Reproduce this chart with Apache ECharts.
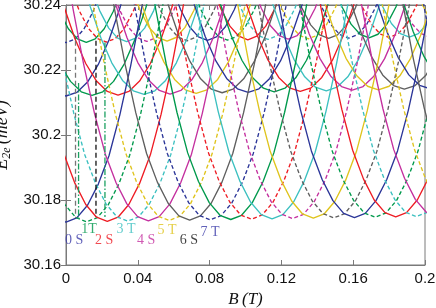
<!DOCTYPE html>
<html><head><meta charset="utf-8">
<script src="https://cdn.jsdelivr.net/npm/echarts@6/dist/echarts.min.js"></script>
<style>html,body{margin:0;padding:0;background:#fff}#c{width:436px;height:308px}</style>
</head><body><div id="c"></div>
<script>
// ---------- data ----------
// lowest band: B of each parabola minimum (T) and its minimum energy (meV), m = 0,1,2,...
const lowCenters = [0, 0.0115, 0.0230, 0.0344, 0.0459, 0.0574, 0.0689, 0.0804, 0.0918, 0.1033, 0.1148, 0.1263, 0.1378, 0.1492, 0.1607, 0.1722, 0.1837, 0.1952, 0.2066, 0.2181, 0.2296, 0.2411];
const lowFloors = [30.1732, 30.1733, 30.1734, 30.1735, 30.1736, 30.1737, 30.1738, 30.1739, 30.1740, 30.1741, 30.1742, 30.1743, 30.1744, 30.1745, 30.1746, 30.1747, 30.1748, 30.1749, 30.1750, 30.1751, 30.1752, 30.1753];
// shape of one lowest-band curve: distance from its minimum (T) and rise above it (meV)
const lowOffsets = [-0.048, -0.042, -0.036, -0.030, -0.024, -0.018, -0.012, -0.006, 0, 0.006, 0.012, 0.018, 0.024, 0.030, 0.036, 0.042, 0.048];
const lowRises = [0.0852, 0.0653, 0.0480, 0.0330, 0.0205, 0.0117, 0.0052, 0.0013, 0, 0.0013, 0.0052, 0.0117, 0.0205, 0.0330, 0.0480, 0.0653, 0.0852];

// middle band
const midCenters = [0, 0.0145, 0.0290, 0.0435, 0.0580, 0.0725, 0.0870, 0.1015, 0.1160, 0.1305, 0.1450, 0.1595, 0.1740, 0.1885, 0.2030, 0.2175, 0.2320];
const midFloors = [30.2120, 30.2122, 30.2123, 30.2125, 30.2126, 30.2128, 30.2130, 30.2131, 30.2133, 30.2134, 30.2136, 30.2138, 30.2139, 30.2141, 30.2142, 30.2144, 30.2146];
const midOffsets = [-0.036, -0.030, -0.024, -0.018, -0.012, -0.006, 0, 0.006, 0.012, 0.018, 0.024, 0.030, 0.036];
const midRises = [0.0389, 0.0270, 0.0173, 0.0097, 0.0043, 0.0011, 0, 0.0011, 0.0043, 0.0097, 0.0173, 0.0270, 0.0389];

// upper band
const topCenters = [0, 0.0113, 0.0225, 0.0338, 0.0450, 0.0563, 0.0675, 0.0788, 0.0900, 0.1013, 0.1125, 0.1238, 0.1350, 0.1463, 0.1575, 0.1688, 0.1800, 0.1913, 0.2025, 0.2138];
const topFloors = [30.2284, 30.2285, 30.2286, 30.2287, 30.2288, 30.2289, 30.2290, 30.2291, 30.2292, 30.2293, 30.2294, 30.2295, 30.2296, 30.2297, 30.2298, 30.2299, 30.2300, 30.2301, 30.2302, 30.2303];
const topOffsets = [-0.020, -0.015, -0.010, -0.005, 0, 0.005, 0.010, 0.015, 0.020];
const topRises = [0.0168, 0.0095, 0.0042, 0.0011, 0, 0.0011, 0.0042, 0.0095, 0.0168];

// vertical marker lines
const markB = [0.0053, 0.0070, 0.0167, 0.0217];
const markTop = [30.2290, 30.2160, 30.2290, 30.2285];
const markBottom = [30.1745, 30.1738, 30.1748, 30.1748];

// state labels
const stateLabels = ['0 S', '1T', '2 S', '3 T', '4 S', '5 T', '6 S', '7 T'];
const labelB = [0.0045, 0.0128, 0.0212, 0.0334, 0.0446, 0.0563, 0.0685, 0.0802];
const labelE = [30.1677, 30.1711, 30.1677, 30.1711, 30.1677, 30.1708, 30.1677, 30.1702];

// axis ticks
const xTicks = ['0', '0.04', '0.08', '0.12', '0.16', '0.2'];
const yTicks = ['30.16', '30.18', '30.2', '30.22', '30.24'];

// ---------- styles ----------
const palette = ['#2b3598', '#00994c', '#ee1c24', '#3cc0c0', '#c4309f', '#dfc41d', '#5f5f5f'];
const labelColors = ['#3a3aa8', '#00994c', '#ee1c24', '#3cc0c0', '#c4309f', '#dfc41d', '#111111', '#3a3aa8'];
const markColors = ['#777777', '#1aa060', '#111111', '#1aa060'];
const markDash = [[5, 3], [6, 2, 1.5, 2], [5, 3], [6, 2, 1.5, 2]];
const DASH = [4, 2.5];

const series = [];
function addCurve(center, floor, offs, rises, color, dashed) {
  series.push({
    type: 'line', symbol: 'none', silent: true, animation: false, clip: true,
    data: offs.map((o, j) => [center + o, floor + rises[j]]),
    lineStyle: { color: color, width: 1.35, type: dashed ? DASH : 'solid' }
  });
}
topCenters.forEach((c, m) => addCurve(c, topFloors[m], topOffsets, topRises, palette[m % 7], m % 2 === 0));
midCenters.forEach((c, m) => addCurve(c, midFloors[m], midOffsets, midRises, palette[m % 7], false));
lowCenters.forEach((c, m) => addCurve(c, lowFloors[m], lowOffsets, lowRises, palette[m % 7], m % 2 === 1));

markB.forEach((b, i) => series.push({
  type: 'line', symbol: 'none', silent: true, animation: false,
  data: [[b, markTop[i]], [b, markBottom[i]]],
  lineStyle: { color: markColors[i], width: 1.3, type: markDash[i] }
}));

series.push({
  type: 'scatter', symbolSize: 0, silent: true, animation: false,
  data: stateLabels.map((t, i) => ({ value: [labelB[i], labelE[i]], name: t, label: { color: labelColors[i] } })),
  label: {
    show: true, position: 'inside', formatter: p => p.name,
    fontFamily: 'Liberation Serif', fontSize: 14
  }
});

const axisGray = '#7a7a7a';
const option = {
  animation: false,
  grid: { left: 66, right: 11, top: 5, bottom: 43, show: true, borderColor: axisGray, borderWidth: 1, outerBoundsMode: 'none', containLabel: false },
  xAxis: [{
    type: 'value', min: 0, max: 0.2, interval: 0.04,
    axisLine: { show: true, lineStyle: { color: axisGray } },
    axisTick: { inside: true, length: 5, lineStyle: { color: axisGray } },
    splitLine: { show: false },
    axisLabel: { margin: 6, color: '#111', fontFamily: 'Liberation Sans', fontSize: 15,
      formatter: (v) => xTicks[Math.round(v / 0.04)] },
    name: '{i|B} {i|(T)}', nameLocation: 'middle', nameGap: 26,
    nameTextStyle: { rich: { i: { fontFamily: 'Liberation Serif', fontStyle: 'italic', fontSize: 17, color: '#111' } } }
  }, {
    type: 'value', min: 0, max: 0.2, interval: 0.04, position: 'top',
    axisLine: { show: true, lineStyle: { color: axisGray } },
    axisTick: { inside: true, length: 5, lineStyle: { color: axisGray } },
    axisLabel: { show: false }, splitLine: { show: false }
  }],
  yAxis: [{
    type: 'value', min: 30.16, max: 30.24, interval: 0.02,
    axisLine: { show: true, lineStyle: { color: axisGray } },
    axisTick: { inside: true, length: 5, lineStyle: { color: axisGray } },
    splitLine: { show: false },
    axisLabel: { margin: 5, color: '#111', fontFamily: 'Liberation Sans', fontSize: 15,
      formatter: (v) => yTicks[Math.round((v - 30.16) / 0.02)] },
    name: '{i|E}{s|2e} {i|(meV)}', nameLocation: 'middle', nameGap: 45, nameRotate: 90,
    nameTextStyle: { rich: {
      i: { fontFamily: 'Liberation Serif', fontStyle: 'italic', fontSize: 18, color: '#111', lineHeight: 20, verticalAlign: 'middle' },
      s: { fontFamily: 'Liberation Serif', fontStyle: 'italic', fontSize: 12, color: '#111', lineHeight: 20, verticalAlign: 'bottom' }
    } }
  }, {
    type: 'value', min: 30.16, max: 30.24, interval: 0.02, position: 'right',
    axisLine: { show: true, lineStyle: { color: axisGray } },
    axisTick: { inside: true, length: 5, lineStyle: { color: axisGray } },
    axisLabel: { show: false }, splitLine: { show: false }
  }],
  series: series
};
const chart = echarts.init(document.getElementById('c'), null, { renderer: 'canvas' });
chart.setOption(option);
</script></body></html>
